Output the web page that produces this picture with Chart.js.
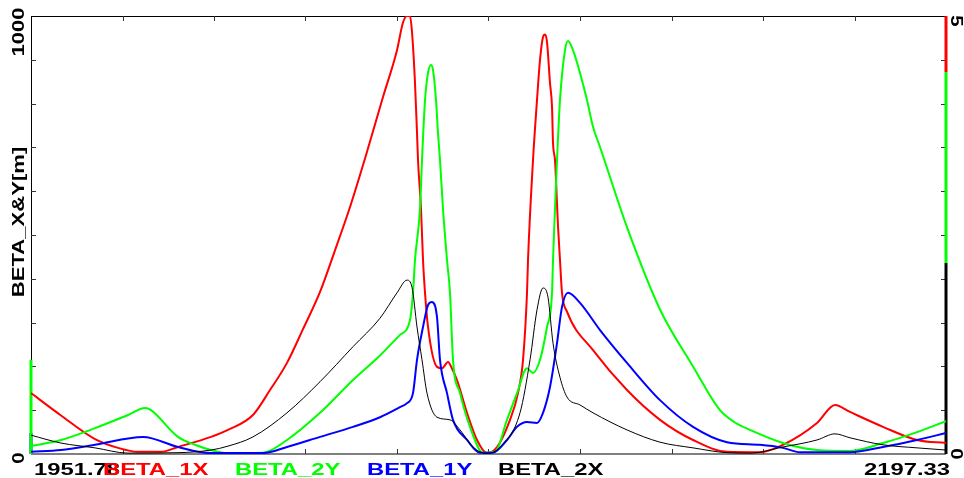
<!DOCTYPE html>
<html lang="en">
  <head>
    <meta charset="UTF-8" />
    <title>BETA_X&amp;Y</title>
    <script src="https://cdn.jsdelivr.net/npm/chart.js"></script>
    <style>
      body { margin: 0; background: #fff; }
    </style>
  </head>

  <body>
    <canvas id="myChart" width="964" height="478"></canvas>

    <script>
      // axis ranges
      const sMin = 1951.78;
      const sMax = 2197.33;
      const betaMax = 1000;
      const rightMax = 5;

      // tick labels (only the ends are labelled)
      const xTickLabels = ["1951.78", "2197.33"];
      const leftTickLabels = ["0", "1000"];
      const rightTickLabels = ["0", "5"];
      const yTitle = "BETA_X&Y[m]";

      // series names, as in the legend under the plot
      const seriesNames = ["BETA_1X", "BETA_2Y", "BETA_1Y", "BETA_2X"];
      const seriesColors = ["#ff0000", "#00ff00", "#0000ff", "#000000"];

      // BETA_1X (red)
      const sRed = [1951.78, 1959.83, 1968.96, 1975.13, 1980.49, 1986.67, 1991.23, 2000.08, 2004.65, 2011.34,
        2015.92, 2020.48, 2024.77, 2029.34, 2033.36, 2037.39, 2041.95, 2046.24, 2050.00, 2051.61,
        2052.68, 2053.49, 2054.02, 2054.83, 2055.37, 2055.64, 2056.44, 2056.98, 2057.52, 2058.32,
        2060.73, 2062.08, 2063.69, 2064.76, 2066.10, 2068.79, 2071.47, 2074.15, 2076.84, 2080.33,
        2082.47, 2083.82, 2084.89, 2085.16, 2086.50, 2087.57, 2088.38, 2089.18, 2089.72, 2090.25,
        2091.06, 2091.60, 2091.87, 2092.40, 2093.21, 2093.74, 2094.28, 2095.62, 2102.60, 2111.72,
        2120.58, 2129.44, 2138.56, 2147.42, 2153.59, 2162.71, 2167.54, 2171.57, 2180.42, 2189.55,
        2197.33];
      const betaRed = [139, 88, 34, 14, 5, 5, 16, 39, 55, 89,
        146, 208, 285, 370, 465, 564, 690, 815, 922, 985,
        1000, 1000, 964, 847, 733, 671, 560, 443, 368, 290,
        199, 196, 210, 195, 169, 94, 32, 2, 16, 78,
        139, 215, 368, 443, 671, 808, 900, 952, 958, 941,
        847, 792, 710, 671, 520, 443, 368, 325, 237, 146,
        78, 32, 5, 4, 21, 71, 112, 96, 62, 32,
        25];

      // BETA_2Y (green)
      const sGreen = [1951.78, 1959.83, 1968.96, 1977.81, 1982.37, 1983.98, 1991.23, 1995.79, 2000.08, 2004.65,
        2014.04, 2020.48, 2029.34, 2038.19, 2045.44, 2050.80, 2053.49, 2054.29, 2054.83, 2056.17,
        2056.71, 2057.52, 2058.32, 2059.12, 2059.66, 2060.47, 2061.00, 2061.54, 2062.34, 2063.42,
        2064.22, 2065.03, 2066.91, 2069.59, 2073.08, 2076.30, 2079.52, 2082.21, 2084.89, 2086.50,
        2088.38, 2090.25, 2091.60, 2091.87, 2092.40, 2092.94, 2093.74, 2095.09, 2095.89, 2097.23,
        2099.11, 2100.99, 2102.60, 2104.48, 2111.72, 2120.58, 2129.44, 2136.68, 2140.71, 2144.73,
        2153.59, 2162.71, 2171.57, 2180.42, 2189.55, 2197.33];
      const betaGreen = [18, 32, 59, 89, 105, 100, 39, 21, 9, 2,
        3, 32, 94, 169, 225, 272, 306, 368, 443, 560,
        671, 808, 870, 888, 877, 808, 733, 671, 560, 443,
        368, 215, 139, 62, 3, 5, 78, 139, 196, 185,
        215, 290, 368, 443, 560, 671, 808, 922, 943, 922,
        870, 808, 747, 701, 518, 330, 200, 100, 72, 55,
        25, 9, 7, 25, 50, 75];

      // BETA_1Y (blue)
      const sBlue = [1951.78, 1959.83, 1968.96, 1981.84, 1991.23, 2000.08, 2014.04, 2020.48, 2029.34, 2038.19,
        2045.44, 2050.80, 2052.68, 2054.29, 2055.37, 2056.98, 2058.32, 2059.39, 2060.73, 2061.54,
        2063.42, 2065.03, 2068.79, 2072.28, 2075.76, 2079.52, 2082.21, 2084.89, 2087.57, 2089.18,
        2091.06, 2092.94, 2094.28, 2095.89, 2099.11, 2104.48, 2111.72, 2120.58, 2129.44, 2138.56,
        2147.42, 2153.59, 2158.15, 2171.57, 2180.42, 2189.55, 2197.33];
      const betaBlue = [5, 9, 21, 39, 16, 2, 2, 16, 39, 62,
        84, 107, 116, 139, 215, 290, 340, 347, 313, 215,
        139, 78, 32, 3, 3, 32, 62, 73, 71, 94,
        153, 253, 336, 368, 345, 283, 208, 123, 62, 27,
        21, 14, 4, 4, 16, 32, 48];

      // BETA_2X (black)
      const sBlack = [1951.78, 1959.83, 1968.96, 1977.81, 1991.23, 2000.08, 2004.65, 2011.34, 2020.48, 2029.34,
        2038.19, 2045.44, 2050.00, 2052.68, 2054.02, 2055.37, 2056.71, 2058.05, 2060.73, 2064.22,
        2066.91, 2070.40, 2074.15, 2077.64, 2083.01, 2085.70, 2087.57, 2089.18, 2090.52, 2091.87,
        2093.74, 2095.62, 2099.11, 2102.60, 2111.72, 2120.58, 2129.44, 2138.56, 2144.73, 2153.59,
        2162.71, 2167.54, 2171.57, 2180.42, 2189.55, 2197.33];
      const betaBlack = [43, 25, 14, 2, 3, 9, 18, 39, 94, 165,
        245, 310, 368, 397, 381, 290, 215, 139, 84, 78,
        55, 16, 1, 16, 94, 215, 329, 379, 358, 253,
        175, 130, 112, 94, 55, 27, 14, 3, 2, 16,
        32, 46, 37, 21, 14, 9];

      // coloured marks on the two vertical axes: [from, to]
      const leftGreenBar = [0, 215];
      const leftBlueBar = [0, 48];
      const rightBlackBar = [0, 2.18];
      const rightGreenBar = [2.18, 4.36];
      const rightRedBar = [4.36, 5];

      const toPoints = (xs, ys) => xs.map((x, i) => ({ x: x, y: ys[i] }));

      function curve(label, xs, ys, color, width) {
        return {
          label: label,
          data: toPoints(xs, ys),
          borderColor: color,
          borderWidth: width,
          pointRadius: 0,
          cubicInterpolationMode: "monotone",
          yAxisID: "y",
        };
      }

      function axisBar(sPos, range, color, axis) {
        return {
          data: [{ x: sPos, y: range[0] }, { x: sPos, y: range[1] }],
          borderColor: color,
          borderWidth: 3,
          pointRadius: 0,
          clip: false,
          yAxisID: axis,
        };
      }

      const FONT = 'bold 17px "Liberation Sans", Arial, sans-serif';

      // draws text a bit stretched sideways, like the original plot font
      function wideText(ctx, text, x, y, sx, align, angle) {
        ctx.save();
        ctx.translate(x, y);
        if (angle) ctx.rotate(angle);
        ctx.scale(sx, 1);
        ctx.font = FONT;
        ctx.textAlign = align;
        ctx.textBaseline = angle ? "middle" : "alphabetic";
        ctx.fillText(text, 0, 0);
        ctx.restore();
      }

      const framePlugin = {
        id: "frame",
        beforeDatasetsDraw(chart) {
          const ctx = chart.ctx;
          const a = chart.chartArea;
          const xs = chart.scales.x;
          const yl = chart.scales.y;
          const yr = chart.scales.y2;
          ctx.save();
          // top and left border
          ctx.strokeStyle = "#000";
          ctx.lineWidth = 1;
          ctx.beginPath();
          ctx.moveTo(a.left, a.top + 0.5);
          ctx.lineTo(a.right, a.top + 0.5);
          ctx.moveTo(a.left + 0.5, a.top);
          ctx.lineTo(a.left + 0.5, a.bottom);
          ctx.stroke();
          // bottom axis
          ctx.strokeStyle = "#808080";
          ctx.lineWidth = 2;
          ctx.beginPath();
          ctx.moveTo(a.left, a.bottom);
          ctx.lineTo(a.right, a.bottom);
          ctx.stroke();
          // inward ticks
          ctx.strokeStyle = "#333";
          ctx.lineWidth = 1;
          ctx.beginPath();
          for (let i = 1; i < 10; i++) {
            const px = Math.round(xs.getPixelForValue(sMin + ((sMax - sMin) * i) / 10)) + 0.5;
            ctx.moveTo(px, a.top);
            ctx.lineTo(px, a.top + 5);
            ctx.moveTo(px, a.bottom);
            ctx.lineTo(px, a.bottom - 5);
            const pl = Math.round(yl.getPixelForValue((betaMax * i) / 10)) + 0.5;
            ctx.moveTo(a.left, pl);
            ctx.lineTo(a.left + 5, pl);
            const pr = Math.round(yr.getPixelForValue((rightMax * i) / 10)) + 0.5;
            ctx.moveTo(a.right, pr);
            ctx.lineTo(a.right - 5, pr);
          }
          ctx.stroke();
          ctx.restore();
        },
        afterDraw(chart) {
          const ctx = chart.ctx;
          const a = chart.chartArea;
          const yl = chart.scales.y;
          const yr = chart.scales.y2;
          ctx.save();
          ctx.fillStyle = "#000";
          // x end labels
          wideText(ctx, xTickLabels[0], a.left + 3, 475, 1.4, "left");
          wideText(ctx, xTickLabels[1], a.right + 4, 475, 1.4, "right");
          // legend under the plot
          const legendX = [103, 235, 367, 498];
          seriesNames.forEach((name, i) => {
            ctx.fillStyle = seriesColors[i];
            wideText(ctx, name, legendX[i], 475, 1.4, "left");
          });
          ctx.fillStyle = "#000";
          // left axis
          wideText(ctx, leftTickLabels[0], 19, yl.getPixelForValue(0) + 4, 1.2, "center", -Math.PI / 2);
          wideText(ctx, leftTickLabels[1], 19, yl.getPixelForValue(betaMax) + 16, 1.3, "center", -Math.PI / 2);
          wideText(ctx, yTitle, 19, 222, 1.3, "center", -Math.PI / 2);
          // right axis
          wideText(ctx, rightTickLabels[0], 956, yr.getPixelForValue(0), 1.2, "center", Math.PI / 2);
          wideText(ctx, rightTickLabels[1], 956, yr.getPixelForValue(rightMax) + 5, 1.2, "center", Math.PI / 2);
          ctx.restore();
        },
      };

      const ctx = document.getElementById("myChart").getContext("2d");
      const myChart = new Chart(ctx, {
        type: "line",
        data: {
          datasets: [
            curve(seriesNames[3], sBlack, betaBlack, seriesColors[3], 1),
            curve(seriesNames[2], sBlue, betaBlue, seriesColors[2], 2),
            curve(seriesNames[1], sGreen, betaGreen, seriesColors[1], 2),
            curve(seriesNames[0], sRed, betaRed, seriesColors[0], 2),
            axisBar(sMin, leftGreenBar, "#00ff00", "y"),
            axisBar(sMin, leftBlueBar, "#0000ff", "y"),
            axisBar(sMax, rightBlackBar, "#000000", "y2"),
            axisBar(sMax, rightGreenBar, "#00ff00", "y2"),
            axisBar(sMax, rightRedBar, "#ff0000", "y2"),
          ],
        },
        options: {
          responsive: false,
          animation: false,
          devicePixelRatio: 1,
          layout: { padding: { left: 31, top: 16, right: 18, bottom: 24 } },
          plugins: { legend: { display: false }, tooltip: { enabled: false } },
          scales: {
            x: { type: "linear", min: sMin, max: sMax, display: false },
            y: { min: 0, max: betaMax, display: false },
            y2: { min: 0, max: rightMax, display: false, position: "right" },
          },
        },
        plugins: [framePlugin],
      });
    </script>
  </body>
</html>
